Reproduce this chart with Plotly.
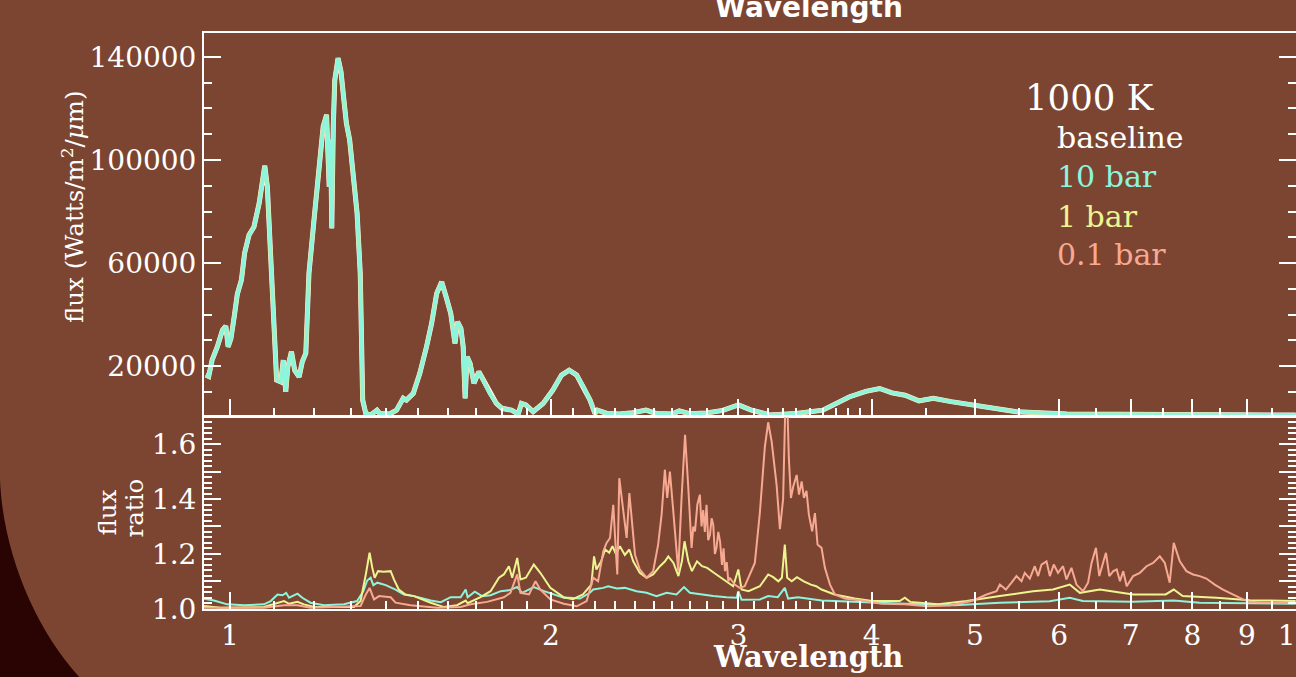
import plotly.graph_objects as go

# ---------------- data ----------------
# top panel: flux (W/m^2/um) vs wavelength (um); the four models overlap at this scale
wl_flux = [0.949, 0.955, 0.962, 0.973, 0.984, 0.991, 0.996, 1.002, 1.009, 1.016, 1.025, 1.032,
           1.042, 1.053, 1.065, 1.078, 1.084, 1.092, 1.100, 1.106, 1.116, 1.122, 1.128, 1.133,
           1.142, 1.150, 1.161, 1.169, 1.178, 1.186, 1.199, 1.212, 1.223, 1.232, 1.236, 1.239,
           1.243, 1.246, 1.250, 1.254, 1.263, 1.271, 1.279, 1.286, 1.295, 1.307, 1.316, 1.325,
           1.328, 1.332, 1.341, 1.355, 1.374, 1.382, 1.412, 1.433, 1.454, 1.464, 1.486, 1.507,
           1.529, 1.546, 1.563, 1.580, 1.595, 1.611, 1.626, 1.635, 1.647, 1.655, 1.662, 1.669,
           1.680, 1.694, 1.712, 1.725, 1.753, 1.778, 1.800, 1.837, 1.864, 1.877, 1.895, 1.925,
           1.967, 2.009, 2.047, 2.081, 2.115, 2.146, 2.177, 2.200, 2.212, 2.258, 2.320, 2.388,
           2.457, 2.510, 2.600, 2.640, 2.700, 2.800, 2.900, 3.000, 3.080, 3.210, 3.400, 3.600,
           3.810, 3.950, 4.070, 4.180, 4.300, 4.430, 4.570, 4.750, 4.980, 5.200, 5.470, 6.100,
           7.000, 8.500, 10.0]
flux_baseline = [16500, 16000, 22300, 27500, 34000, 35500, 27500, 30700, 39000, 48000, 53400, 63800,
                 70900, 74000, 83200, 97700, 89600, 63800, 36600, 14600, 13900, 22300, 10000, 19700,
                 25600, 18400, 15800, 21700, 25000, 56000, 76700, 97400, 113000, 117500, 103900, 89600,
                 107800, 73500, 113000, 131000, 139500, 134300, 123300, 114200, 107800, 92200, 79300, 56000,
                 30000, 6800, 1600, 1000, 2900, 1600, 1400, 2900, 7500, 6800, 9400, 17200,
                 27500, 36600, 48200, 52700, 46900, 40500, 28800, 37200, 34600, 27500, 7500, 23600,
                 21000, 13300, 17800, 15200, 9400, 5500, 3600, 2900, 1400, 5500, 4900, 2300,
                 5500, 10700, 16500, 18400, 16500, 12000, 6800, 1600, 2900, 1600, 1400, 1900,
                 2900, 1600, 1400, 2600, 1500, 1800, 2800, 4900, 3000, 1000, 1600, 2900,
                 8000, 10200, 11300, 9600, 8700, 6500, 7500, 6200, 4900, 3600, 2300, 1400,
                 1200, 1000, 1000]

# bottom panel: flux ratio to the baseline model
wl_r10 = [0.945, 0.966, 0.994, 1.031, 1.076, 1.092, 1.108, 1.120, 1.129, 1.136, 1.144, 1.157,
          1.169, 1.190, 1.225, 1.279, 1.316, 1.334, 1.345, 1.355, 1.363, 1.375, 1.400, 1.430,
          1.456, 1.488, 1.543, 1.577, 1.611, 1.646, 1.664, 1.671, 1.697, 1.724, 1.756, 1.795,
          1.827, 1.860, 1.880, 1.928, 1.971, 2.014, 2.057, 2.084, 2.130, 2.176, 2.192, 2.240,
          2.264, 2.307, 2.347, 2.407, 2.460, 2.513, 2.569, 2.624, 2.667, 2.701, 2.760, 2.841,
          2.924, 2.988, 2.999, 3.020, 3.142, 3.199, 3.266, 3.316, 3.340, 3.411, 3.590, 3.858,
          4.298, 4.787, 5.277, 5.877, 6.137, 6.313, 7.033, 7.684, 8.127, 10.0]
ratio_10bar = [1.037, 1.030, 1.016, 1.013, 1.016, 1.028, 1.052, 1.049, 1.058, 1.040, 1.046, 1.055,
               1.040, 1.022, 1.013, 1.016, 1.028, 1.064, 1.103, 1.113, 1.086, 1.095, 1.086, 1.070,
               1.052, 1.046, 1.030, 1.024, 1.042, 1.042, 1.070, 1.042, 1.062, 1.046, 1.049, 1.064,
               1.067, 1.079, 1.058, 1.079, 1.064, 1.052, 1.040, 1.040, 1.037, 1.058, 1.070, 1.076,
               1.082, 1.074, 1.076, 1.064, 1.058, 1.046, 1.058, 1.052, 1.079, 1.058, 1.052, 1.046,
               1.042, 1.040, 1.064, 1.033, 1.034, 1.046, 1.042, 1.076, 1.037, 1.042, 1.030, 1.025,
               1.018, 1.013, 1.022, 1.027, 1.040, 1.028, 1.025, 1.030, 1.022, 1.018]

wl_r1 = [0.945, 0.980, 1.076, 1.100, 1.124, 1.136, 1.157, 1.173, 1.199, 1.307, 1.326, 1.341,
         1.352, 1.360, 1.367, 1.377, 1.394, 1.415, 1.425, 1.440, 1.461, 1.488, 1.543, 1.588,
         1.633, 1.664, 1.671, 1.718, 1.756, 1.788, 1.807, 1.827, 1.840, 1.860, 1.873, 1.895,
         1.928, 1.955, 1.998, 2.057, 2.098, 2.144, 2.183, 2.196, 2.207, 2.230, 2.249, 2.269,
         2.285, 2.302, 2.322, 2.347, 2.370, 2.390, 2.424, 2.460, 2.495, 2.532, 2.560, 2.578,
         2.607, 2.635, 2.655, 2.670, 2.692, 2.713, 2.743, 2.773, 2.804, 2.845, 2.887, 2.924,
         2.966, 2.999, 3.020, 3.066, 3.142, 3.199, 3.234, 3.270, 3.295, 3.316, 3.333, 3.366,
         3.404, 3.455, 3.508, 3.549, 3.590, 3.692, 3.858, 4.003, 4.250, 4.298, 4.347, 4.618,
         4.911, 5.277, 5.670, 5.920, 6.137, 6.273, 6.550, 7.038, 7.551, 7.684, 7.834, 8.425,
         9.055, 10.0]
ratio_1bar = [1.010, 1.004, 1.006, 1.018, 1.028, 1.018, 1.025, 1.016, 1.006, 1.006, 1.028, 1.125,
              1.204, 1.149, 1.113, 1.137, 1.135, 1.137, 1.107, 1.070, 1.052, 1.046, 1.022, 1.006,
              1.013, 1.030, 1.020, 1.042, 1.064, 1.113, 1.125, 1.155, 1.113, 1.185, 1.107, 1.113,
              1.161, 1.131, 1.076, 1.042, 1.035, 1.052, 1.088, 1.191, 1.143, 1.173, 1.216, 1.204,
              1.228, 1.200, 1.228, 1.196, 1.216, 1.173, 1.131, 1.113, 1.125, 1.155, 1.173, 1.191,
              1.167, 1.119, 1.173, 1.246, 1.173, 1.137, 1.173, 1.155, 1.149, 1.131, 1.113, 1.100,
              1.082, 1.143, 1.070, 1.064, 1.082, 1.125, 1.115, 1.100, 1.113, 1.234, 1.113, 1.100,
              1.115, 1.100, 1.088, 1.082, 1.070, 1.052, 1.037, 1.028, 1.028, 1.040, 1.025, 1.016,
              1.028, 1.046, 1.064, 1.070, 1.088, 1.058, 1.070, 1.052, 1.052, 1.070, 1.046, 1.040,
              1.031, 1.028]

wl_r01 = [0.945, 1.076, 1.124, 1.157, 1.190, 1.326, 1.341, 1.352, 1.365, 1.380, 1.415, 1.430,
          1.477, 1.565, 1.646, 1.682, 1.743, 1.807, 1.833, 1.860, 1.873, 1.908, 1.935, 1.955,
          1.998, 2.057, 2.115, 2.161, 2.192, 2.215, 2.240, 2.256, 2.273, 2.289, 2.301, 2.309,
          2.319, 2.331, 2.343, 2.356, 2.370, 2.382, 2.399, 2.424, 2.460, 2.495, 2.522, 2.541,
          2.559, 2.572, 2.587, 2.606, 2.634, 2.653, 2.673, 2.692, 2.711, 2.721, 2.731, 2.745,
          2.760, 2.770, 2.780, 2.790, 2.800, 2.810, 2.821, 2.831, 2.841, 2.851, 2.861, 2.872,
          2.883, 2.895, 2.905, 2.914, 2.925, 2.935, 2.944, 2.976, 3.008, 3.041, 3.074, 3.108,
          3.142, 3.176, 3.199, 3.223, 3.258, 3.281, 3.304, 3.320, 3.334, 3.345, 3.360, 3.377,
          3.402, 3.419, 3.439, 3.456, 3.475, 3.493, 3.518, 3.539, 3.559, 3.590, 3.616, 3.656,
          3.695, 3.775, 3.914, 4.087, 4.298, 4.504, 4.735, 4.965, 5.128, 5.240, 5.277, 5.346,
          5.412, 5.470, 5.530, 5.569, 5.630, 5.691, 5.732, 5.774, 5.837, 5.879, 5.929, 5.984,
          6.049, 6.094, 6.160, 6.227, 6.316, 6.385, 6.434, 6.495, 6.542, 6.589, 6.637, 6.685,
          6.743, 6.793, 6.841, 6.890, 6.941, 7.038, 7.142, 7.245, 7.349, 7.456, 7.537, 7.617,
          7.684, 7.785, 7.897, 8.011, 8.127, 8.245, 8.395, 8.547, 8.734, 8.925, 9.055, 9.386, 10.0]
ratio_01bar = [1.004, 1.004, 1.013, 1.013, 1.004, 1.010, 1.052, 1.076, 1.034, 1.046, 1.042, 1.022,
               1.013, 1.004, 1.006, 1.016, 1.025, 1.042, 1.058, 1.125, 1.058, 1.052, 1.100, 1.070,
               1.034, 1.018, 1.009, 1.028, 1.113, 1.100, 1.209, 1.240, 1.258, 1.379, 1.222, 1.125,
               1.476, 1.404, 1.343, 1.258, 1.422, 1.319, 1.197, 1.143, 1.113, 1.137, 1.234, 1.343,
               1.507, 1.404, 1.500, 1.355, 1.137, 1.404, 1.634, 1.440, 1.222, 1.300, 1.282, 1.380,
               1.416, 1.300, 1.360, 1.280, 1.379, 1.250, 1.270, 1.330, 1.306, 1.200, 1.222, 1.280,
               1.246, 1.160, 1.220, 1.137, 1.170, 1.100, 1.113, 1.088, 1.076, 1.082, 1.125, 1.167,
               1.350, 1.590, 1.680, 1.610, 1.450, 1.290, 1.400, 1.750, 1.750, 1.550, 1.404, 1.446,
               1.488, 1.416, 1.464, 1.404, 1.430, 1.343, 1.282, 1.349, 1.234, 1.222, 1.149, 1.088,
               1.052, 1.037, 1.030, 1.018, 1.016, 1.009, 1.012, 1.028, 1.052, 1.064, 1.088, 1.070,
               1.095, 1.119, 1.100, 1.131, 1.110, 1.155, 1.119, 1.161, 1.173, 1.119, 1.161, 1.131,
               1.155, 1.107, 1.149, 1.088, 1.064, 1.095, 1.167, 1.222, 1.119, 1.161, 1.204, 1.119,
               1.137, 1.143, 1.100, 1.137, 1.082, 1.119, 1.131, 1.155, 1.167, 1.191, 1.167, 1.095,
               1.240, 1.173, 1.137, 1.125, 1.119, 1.110, 1.088, 1.070, 1.052, 1.034, 1.025, 1.022, 1.020]

x_tick_vals = [1, 2, 3, 4, 5, 6, 7, 8, 9, 10]
x_tick_text = ["1", "2", "3", "4", "5", "6", "7", "8", "9", "10"]
x_minor_vals = [1.1, 1.2, 1.3, 1.4, 1.5, 1.6, 1.7, 1.8, 1.9,
                2.1, 2.2, 2.3, 2.4, 2.5, 2.6, 2.7, 2.8, 2.9,
                3.1, 3.2, 3.3, 3.4, 3.5, 3.6, 3.7, 3.8, 3.9,
                4.5, 5.5, 6.5, 7.5, 8.5, 9.5]
flux_tick_vals = [20000, 60000, 100000, 140000]
flux_tick_text = ["20000", "60000", "100000", "140000"]
flux_minor_vals = [10000, 30000, 40000, 50000, 70000, 80000, 90000, 110000, 120000, 130000]
ratio_tick_vals = [1.0, 1.1, 1.2, 1.3, 1.4, 1.5, 1.6]
ratio_tick_text = ["1.0", "", "1.2", "", "1.4", "", "1.6"]
ratio_minor_vals = [1.02, 1.04, 1.06, 1.08, 1.12, 1.14, 1.16, 1.18, 1.22, 1.24, 1.26, 1.28,
                    1.32, 1.34, 1.36, 1.38, 1.42, 1.44, 1.46, 1.48, 1.52, 1.54, 1.56, 1.58,
                    1.62, 1.64, 1.66, 1.68]

series_names = ["baseline", "10 bar", "1 bar", "0.1 bar"]
series_colors = ["#FFFFFF", "#8CF5DC", "#ECF590", "#F7A992"]

# ---------------- figure ----------------
BG = "#7B4532"
W, H = 1296, 677
ML, MR, MT, MB = 204, 0, 33, 68
PW, PH = W - ML - MR, H - MT - MB
SERIF = "DejaVu Serif"


def px_x(px):
    return (px - ML) / PW


def px_y(py):
    return (H - MB - py) / PH


fig = go.Figure()

# top panel (10 bar drawn last so it sits on top)
for name, col, wd in [("baseline", series_colors[0], 5), ("0.1 bar", series_colors[3], 4),
                      ("1 bar", series_colors[2], 4), ("10 bar", series_colors[1], 3.6)]:
    fig.add_trace(go.Scatter(x=wl_flux, y=flux_baseline, mode="lines", name=name,
                             line=dict(color=col, width=wd), xaxis="x", yaxis="y",
                             showlegend=False))

# bottom panel
fig.add_trace(go.Scatter(x=wl_r10, y=ratio_10bar, mode="lines", line=dict(color=series_colors[1], width=2),
                         xaxis="x2", yaxis="y2", showlegend=False))
fig.add_trace(go.Scatter(x=wl_r1, y=ratio_1bar, mode="lines", line=dict(color=series_colors[2], width=2),
                         xaxis="x2", yaxis="y2", showlegend=False))
fig.add_trace(go.Scatter(x=wl_r01, y=ratio_01bar, mode="lines", line=dict(color=series_colors[3], width=2),
                         xaxis="x2", yaxis="y2", showlegend=False))

common_x = dict(type="log", range=[-0.0244, 1.0003], tickmode="array", tickvals=x_tick_vals,
                ticktext=x_tick_text, ticks="inside", ticklen=17, tickwidth=2, tickcolor="white",
                showline=True, linecolor="white", linewidth=2, mirror=True, showgrid=False,
                zeroline=False, automargin=False,
                minor=dict(tickmode="array", tickvals=x_minor_vals, ticks="inside", ticklen=8,
                           tickwidth=2, tickcolor="white", showgrid=False),
                tickfont=dict(family=SERIF, size=28, color="white"))

fig.update_layout(
    width=W, height=H, margin=dict(l=ML, r=MR, t=MT, b=MB, autoexpand=False),
    paper_bgcolor=BG, plot_bgcolor=BG, showlegend=False,
    xaxis=dict(common_x, domain=[0, 1], anchor="y", showticklabels=False),
    xaxis2=dict(common_x, domain=[0, 1], anchor="y2", showticklabels=True, matches="x",
                ticklabeloverflow="allow"),
    yaxis=dict(domain=[0.335, 1], range=[600, 149300], tickmode="array", tickvals=flux_tick_vals,
               ticktext=flux_tick_text, ticks="inside", ticklen=17, tickwidth=2, tickcolor="white",
               showline=True, linecolor="white", linewidth=2, mirror="ticks", showgrid=False,
               zeroline=False, anchor="x", automargin=False,
               minor=dict(tickmode="array", tickvals=flux_minor_vals, ticks="inside", ticklen=8,
                          tickwidth=2, tickcolor="white", showgrid=False),
               tickfont=dict(family=SERIF, size=28, color="white")),
    yaxis2=dict(domain=[0, 0.333], range=[0.999, 1.6985], tickmode="array", tickvals=ratio_tick_vals,
                ticktext=ratio_tick_text, ticks="inside", ticklen=17, tickwidth=2, tickcolor="white",
                showline=True, linecolor="white", linewidth=2, mirror="ticks", showgrid=False,
                zeroline=False, anchor="x2", automargin=False,
                minor=dict(tickmode="array", tickvals=ratio_minor_vals, ticks="inside", ticklen=8,
                           tickwidth=2, tickcolor="white", showgrid=False),
                tickfont=dict(family=SERIF, size=28, color="white")),
)

# dark slide corner bottom-left
path = ("M {:.4f},{:.4f} L {:.4f},{:.4f} C {:.4f},{:.4f} {:.4f},{:.4f} {:.4f},{:.4f} "
        "L {:.4f},{:.4f} Z").format(
    px_x(-5), px_y(480), px_x(0), px_y(480),
    px_x(3), px_y(552), px_x(35), px_y(630), px_x(82), px_y(680),
    px_x(-5), px_y(680))
fig.add_shape(type="path", path=path, xref="paper", yref="paper", fillcolor="#2A0303",
              line=dict(width=0), layer="below")

ann = []
ann.append(dict(text="<b>Wavelength</b>", x=px_x(809), y=px_y(7), xanchor="center", yanchor="middle",
                font=dict(family="DejaVu Sans", size=28, color="white")))
ann.append(dict(text="<b>Wavelength</b>", x=px_x(808), y=px_y(657), xanchor="center", yanchor="middle",
                font=dict(family=SERIF, size=29, color="white")))
ann.append(dict(text="flux (Watts/m<sup>2</sup>/<i>μ</i>m)", x=px_x(73), y=px_y(207), textangle=-90,
                xanchor="center", yanchor="middle", font=dict(family=SERIF, size=24.5, color="white")))
ann.append(dict(text="flux", x=px_x(106.5), y=px_y(513), textangle=-90,
                xanchor="center", yanchor="middle", font=dict(family=SERIF, size=24.5, color="white")))
ann.append(dict(text="ratio", x=px_x(133.5), y=px_y(508), textangle=-90,
                xanchor="center", yanchor="middle", font=dict(family=SERIF, size=24.5, color="white")))
ann.append(dict(text="1000 K", x=px_x(1023), y=px_y(110 - 0.346 * 35.5), xanchor="left", yanchor="middle",
                font=dict(family=SERIF, size=35.5, color="white")))
label_baselines = [148, 187, 226.5, 265]
for name, col, bl in zip(series_names, series_colors, label_baselines):
    ann.append(dict(text=name, x=px_x(1055), y=px_y(bl - 0.346 * 30), xanchor="left", yanchor="middle",
                    font=dict(family=SERIF, size=30, color=col)))
for a in ann:
    a.update(xref="paper", yref="paper", showarrow=False)
fig.update_layout(annotations=ann)

fig.write_html("out.html")
